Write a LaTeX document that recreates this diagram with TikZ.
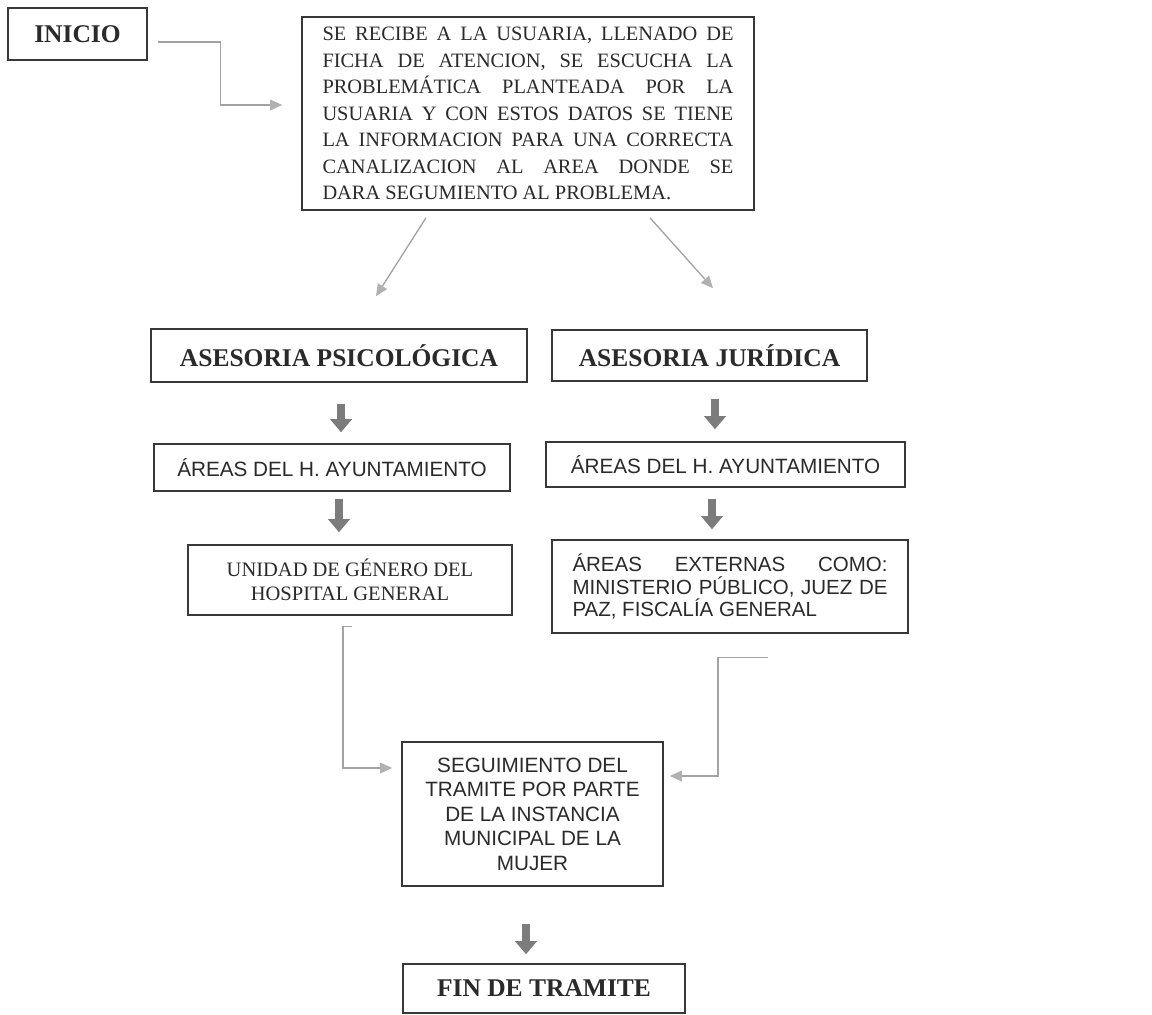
\documentclass[tikz,border=0pt]{standalone}
\usepackage{fontspec}
\setmainfont{Liberation Serif}
\setsansfont{Liberation Sans}
\usetikzlibrary{arrows.meta,calc}
\definecolor{ink}{HTML}{2A2A2A}
\definecolor{frame}{HTML}{383838}
\definecolor{conncol}{HTML}{A3A3A3}
\definecolor{blkcol}{HTML}{7C7C7C}
\tikzset{
  box/.style={draw=frame, line width=1.6pt, text=ink, inner sep=0pt, align=center},
  boldtitle/.style={box, font=\bfseries\fontsize{25.5}{28}\selectfont},
  serifbody/.style={box, font=\fontsize{20.5}{24.5}\selectfont},
  sansbody/.style={box, font=\sffamily\fontsize{20.7}{24.5}\selectfont},
  conn/.style={draw=conncol, line width=1.3pt, -{Triangle[length=12pt,width=11pt,line width=0pt,fill=conncol!85]}},
  blk/.style={draw=blkcol, line width=8pt, -{Triangle[length=13pt,width=22pt,line width=0pt,fill=blkcol]}}
}
\begin{document}
\begin{tikzpicture}[x=1pt,y=-1pt]
\fill[white] (0,0) rectangle (1152,1015);
\useasboundingbox (0,0) rectangle (1152,1015);

% nodes
\node[boldtitle, minimum width=139pt, minimum height=52pt] (inicio) at (77.5,34) {INICIO};

\node[box, minimum width=452pt, minimum height=193pt, text width=411pt, inner xsep=20.5pt, align=justify,
      font=\fontsize{20.4}{26.5}\selectfont] (main) at (528,113.5)
  {SE RECIBE A LA USUARIA, LLENADO DE\linebreak FICHA DE ATENCION, SE ESCUCHA LA\linebreak PROBLEMÁTICA PLANTEADA POR LA\linebreak USUARIA Y CON ESTOS DATOS SE TIENE\linebreak LA INFORMACION PARA UNA CORRECTA\linebreak CANALIZACION AL AREA DONDE SE\linebreak DARA SEGUMIENTO AL PROBLEMA.};

\node[boldtitle, minimum width=376pt, minimum height=53pt] (ap) at (339,355.5) {ASESORIA PSICOLÓGICA};
\node[boldtitle, minimum width=315pt, minimum height=51pt] (aj) at (709.5,355.5) {ASESORIA JURÍDICA};

\node[sansbody, minimum width=356pt, minimum height=47pt] (areas1) at (332,467.5) {ÁREAS DEL H. AYUNTAMIENTO};
\node[sansbody, minimum width=359pt, minimum height=45pt] (areas2) at (725.5,464.5) {ÁREAS DEL H. AYUNTAMIENTO};

\node[serifbody, minimum width=324pt, minimum height=70pt] (unidad) at (350,580) {UNIDAD DE GÉNERO DEL\\HOSPITAL GENERAL};

\node[box, minimum width=356pt, minimum height=93pt, text width=315pt, inner xsep=20.5pt, align=justify,
      font=\sffamily\fontsize{20.5}{22.5}\selectfont] (externas) at (730,586.5)
  {ÁREAS EXTERNAS COMO:\linebreak MINISTERIO PÚBLICO, JUEZ DE\linebreak PAZ, FISCALÍA GENERAL};

\node[sansbody, minimum width=261pt, minimum height=144pt] (seg) at (532.5,814)
  {SEGUIMIENTO DEL\\TRAMITE POR PARTE\\DE LA INSTANCIA\\MUNICIPAL DE LA\\MUJER};

\node[boldtitle, minimum width=282pt, minimum height=49pt] (fin) at (544,988.5) {FIN DE TRAMITE};

% thin connectors
\draw[conn] ([xshift=10pt,yshift=-8pt]inicio.east) -- ++(63,0) |- ([xshift=-19pt,yshift=8.5pt]main.west);
\draw[conn] ([xshift=-102pt,yshift=-7pt]main.south) -- ([xshift=37pt,yshift=32pt]ap.north);
\draw[conn] ([xshift=122pt,yshift=-7pt]main.south) -- ([xshift=3.5pt,yshift=41pt]aj.north);
\draw[conn] ([xshift=2pt,yshift=-11pt]unidad.south) -- ++(-9,0) |- ([xshift=-9pt,yshift=46pt]seg.west);
\draw[conn] ([xshift=38pt,yshift=-24pt]externas.south) -- ++(-50,0) |- ([xshift=6pt,yshift=38pt]seg.east);

% block arrows
\draw[blk] ([xshift=2pt,yshift=-21pt]ap.south) -- ([xshift=9pt,yshift=11pt]areas1.north);
\draw[blk] ([xshift=7pt,yshift=-7pt]areas1.south) -- ([xshift=-11pt,yshift=12pt]unidad.north);
\draw[blk] ([xshift=5.5pt,yshift=-17pt]aj.south) -- ([xshift=-10.5pt,yshift=12pt]areas2.north);
\draw[blk] ([xshift=-13.5pt,yshift=-11pt]areas2.south) -- ([xshift=-18pt,yshift=10pt]externas.north);
\draw[blk] ([xshift=-6.5pt,yshift=-37pt]seg.south) -- ([xshift=-18pt,yshift=9pt]fin.north);
\end{tikzpicture}
\end{document}
